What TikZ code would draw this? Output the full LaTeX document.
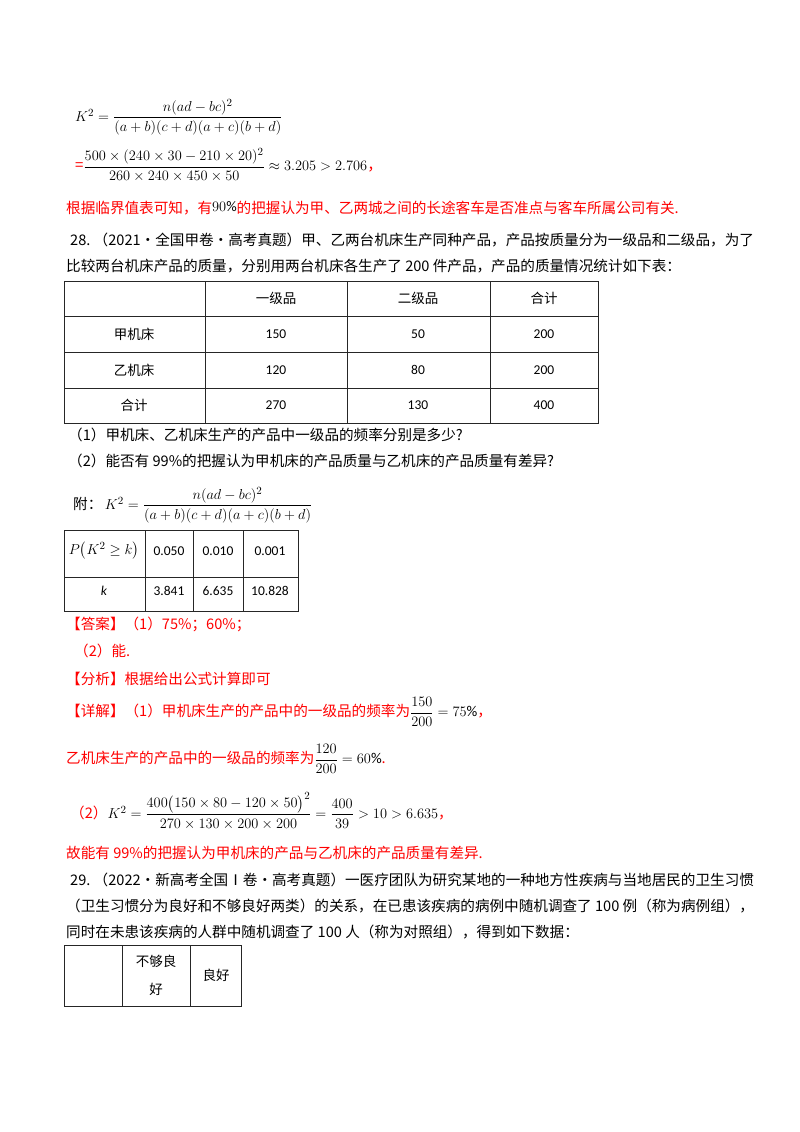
\documentclass[tikz,border=0pt]{standalone}
\usepackage{amsmath}
\usepackage{fontspec}
\setmainfont{Carlito}
\newfontfamily\cjk{Noto Sans CJK SC}
\definecolor{rd}{RGB}{255,0,0}
\begin{document}
\begin{tikzpicture}[x=1pt,y=-1pt,
  t/.style={anchor=west,inner sep=0pt,font=\fontsize{14.6}{16}\selectfont\cjk},
  r/.style={t,text=rd},
  m/.style={t,font=\fontsize{15}{17}\selectfont\cjk},
  c/.style={inner sep=0pt,font=\fontsize{13.5}{16}\selectfont},
  ct/.style={inner sep=0pt,font=\fontsize{13.5}{16}\selectfont\cjk},
  g/.style={line width=0.9pt,draw=black!85}]
\useasboundingbox[fill=white] (0,0) rectangle (800,1132);
\node[m] (f1) at (75,117) {$K^2=\dfrac{n(ad-bc)^2}{(a+b)(c+d)(a+c)(b+d)}$};
\node[m] (f2) at (75,165) {\textcolor{rd}{=}$\dfrac{500\times(240\times30-210\times20)^2}{260\times240\times450\times50}\approx3.205>2.706$\textcolor{rd}{，}};
\node[r] (l1) at (66,208) {根据临界值表可知，有\raisebox{2pt}{\textcolor{black}{$90\%$}}的把握认为甲、乙两城之间的长途客车是否准点与客车所属公司有关.};
\node[t] (q1) at (70,240) {28.\ （2021·全国甲卷·高考真题）甲、乙两台机床生产同种产品，产品按质量分为一级品和二级品，为了};
\node[t] (q2) at (66,266) {比较两台机床产品的质量，分别用两台机床各生产了 200 件产品，产品的质量情况统计如下表：};
% table 1
\draw[g] (64,281) rectangle (598,423);
\foreach \y in {316,352,388} \draw[g] (64,\y) -- (598,\y);
\foreach \x in {205,347,490} \draw[g] (\x,281) -- (\x,423);
\node[ct] (h1) at (276,298) {一级品};
\node[ct] (h2) at (418,298) {二级品};
\node[ct] (h3) at (544,298) {合计};
\node[ct] (ra) at (134,334) {甲机床};
\node[ct] (rb) at (134,370) {乙机床};
\node[ct] (rc) at (134,405) {合计};
\node[c] at (276,334) {150};\node[c] at (418,334) {50};\node[c] at (544,334) {200};
\node[c] at (276,370) {120};\node[c] at (418,370) {80};\node[c] at (544,370) {200};
\node[c] at (276,405) {270};\node[c] at (418,405) {130};\node[c] at (544,405) {400};
\node[t] (p1) at (68,435) {（1）甲机床、乙机床生产的产品中一级品的频率分别是多少?};
\node[t] (p2) at (68,461) {（2）能否有 99\%的把握认为甲机床的产品质量与乙机床的产品质量有差异?};
\node[m] (fu) at (73,505) {{\fontsize{14.6}{16}\selectfont 附：}\,$K^2=\dfrac{n(ad-bc)^2}{(a+b)(c+d)(a+c)(b+d)}$};
% table 2
\draw[g] (64,530) rectangle (298,611);
\draw[g] (64,577) -- (298,577);
\foreach \x in {145,193,243} \draw[g] (\x,530) -- (\x,611);
\node[c,font=\fontsize{15}{16}\selectfont] (pk) at (104,551) {$P\big(K^2\geq k\big)$};
\node[c] at (169,551) {0.050};\node[c] at (218,551) {0.010};\node[c] at (270,551) {0.001};
\node[c] (kk) at (104,591) {\itshape k};
\node[c] at (169,591) {3.841};\node[c] at (218,591) {6.635};\node[c] at (270,591) {10.828};
\node[r] (a1) at (66,624) {【答案】（1）75\%；60\%；};
\node[r] (a2) at (74,651) {（2）能.};
\node[r] (a3) at (66,679) {【分析】根据给出公式计算即可};
\node[r] (d1) at (66,712) {【详解】（1）甲机床生产的产品中的一级品的频率为\textcolor{black}{\fontsize{15}{17}\selectfont$\dfrac{150}{200}=75\%$}，};
\node[r] (d2) at (66,759) {乙机床生产的产品中的一级品的频率为\textcolor{black}{\fontsize{15}{17}\selectfont$\dfrac{120}{200}=60\%$}.};
\node[r] (d3) at (70,811) {（2）\textcolor{black}{\fontsize{15}{17}\selectfont$K^2=\dfrac{400\big(150\times80-120\times50\big)^2}{270\times130\times200\times200}=\dfrac{400}{39}>10>6.635$}，};
\node[r] (d4) at (66,853) {故能有 99\%的把握认为甲机床的产品与乙机床的产品质量有差异.};
\node[t] (s1) at (70,880) {29.\ （2022·新高考全国Ⅰ卷·高考真题）一医疗团队为研究某地的一种地方性疾病与当地居民的卫生习惯};
\node[t] (s2) at (66,906) {（卫生习惯分为良好和不够良好两类）的关系，在已患该疾病的病例中随机调查了 100 例（称为病例组），};
\node[t] (s3) at (66,932) {同时在未患该疾病的人群中随机调查了 100 人（称为对照组），得到如下数据：};
% table 3
\draw[g] (64,945) rectangle (241,1006);
\foreach \x in {122,190} \draw[g] (\x,945) -- (\x,1006);
\node[ct] (b1) at (156,961) {不够良};
\node[ct] (b2) at (156,989) {好};
\node[ct] (b3) at (216,975) {良好};
\end{tikzpicture}
\end{document}
